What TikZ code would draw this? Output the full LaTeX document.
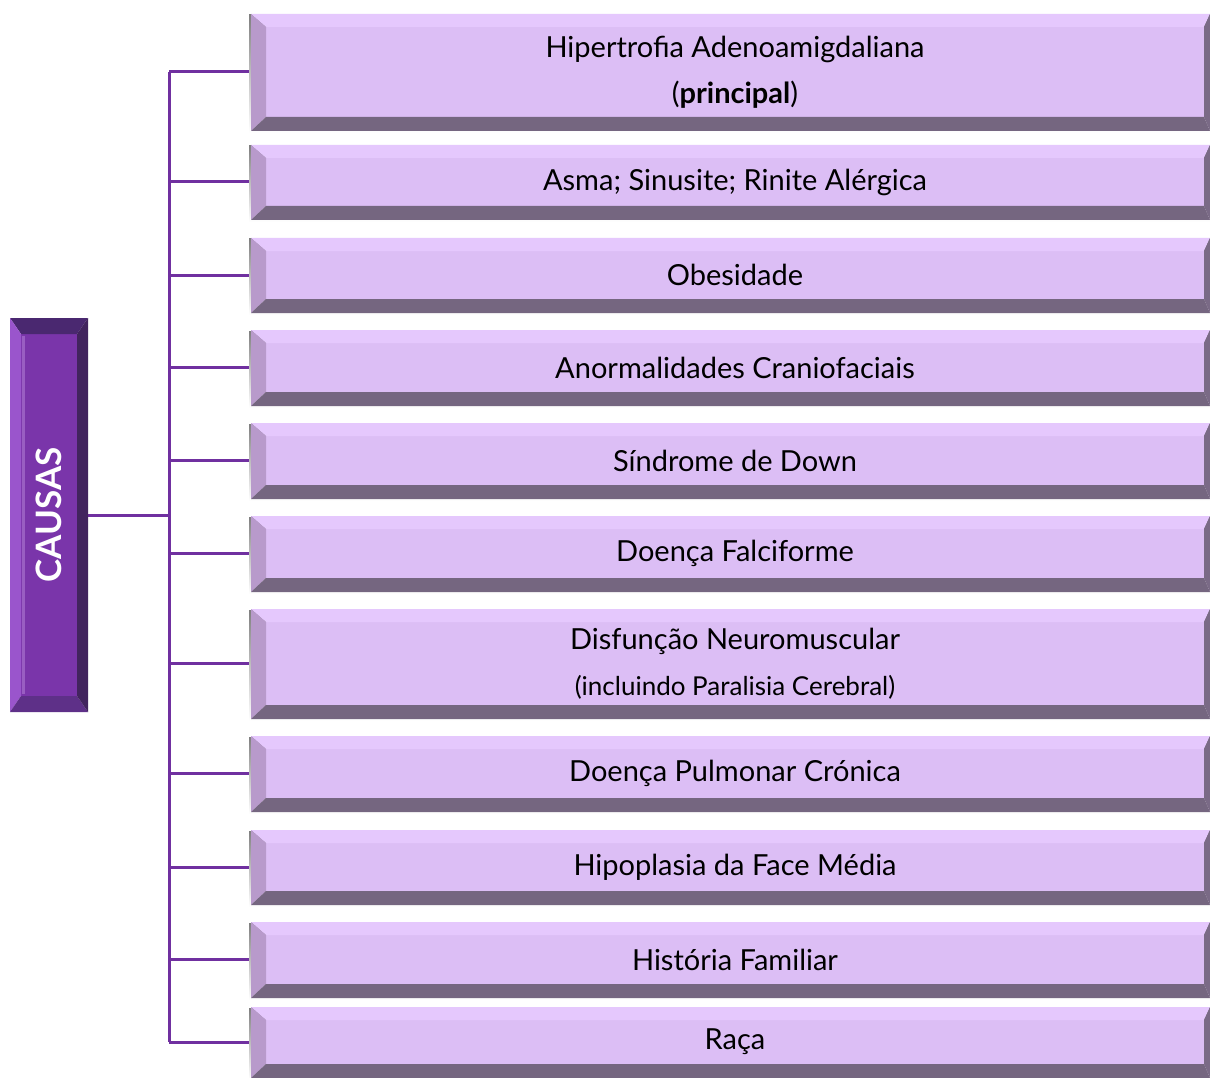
\documentclass[tikz,border=0pt]{standalone}
\usepackage{fontspec}
\setmainfont{Lato}
\usetikzlibrary{calc,backgrounds}
\definecolor{face}{HTML}{DCBEF5}
\definecolor{btop}{HTML}{E5C8FD}
\definecolor{bleft}{HTML}{B89ACB}
\definecolor{bbottom}{HTML}{756680}
\definecolor{bright}{HTML}{7A6A86}
\definecolor{shade}{HTML}{B4B4B4}
\definecolor{cface}{HTML}{7A35AA}
\definecolor{ctop}{HTML}{4A2870}
\definecolor{cleft}{HTML}{9A55CC}
\definecolor{cright}{HTML}{42245E}
\definecolor{cbottom}{HTML}{5E3088}
\definecolor{conn}{HTML}{7030A0}
\tikzset{
  facebox/.style={rectangle, fill=face, inner sep=0pt, minimum width=938pt, align=center,
    font=\fontsize{29}{46}\selectfont, text=black},
  connector/.style={draw=conn, line width=3pt},
}
\newcommand\bevelbox[4]{%
  \fill[shade] (249,{#2+1}) rectangle (1210,{#3+2});
  \node[facebox, minimum height={#3-#2-27}] (#1) at (735,{(#2+#3)/2-0.5}) {#4};
  \fill[btop] (251,#2) -- (1210,#2) -- (1204,{#2+13}) -- (266,{#2+13}) -- cycle;
  \fill[bleft] (251,#2) -- (266,{#2+13}) -- (266,{#3-14}) -- (251,#3) -- cycle;
  \fill[bbottom] (251,#3) -- (266,{#3-14}) -- (1204,{#3-14}) -- (1210,#3) -- cycle;
  \fill[bright] (1210,#2) -- (1204,{#2+13}) -- (1204,{#3-14}) -- (1210,#3) -- cycle;
}
\begin{document}
\begin{tikzpicture}[x=1pt,y=-1pt]
\useasboundingbox (0,0) rectangle (1210,1078);
% CAUSAS box
\node[rectangle, fill=cface, inner sep=0pt, minimum width=362pt, minimum height=56pt,
  text=white, font=\fontsize{35}{40}\selectfont\bfseries, rotate=90] (causas) at (49,515) {CAUSAS};
\fill[ctop] (10,318) -- (88,318) -- (77,334) -- (21,334) -- cycle;
\fill[cleft] (10,318) -- (21,334) -- (21,696) -- (10,712) -- cycle;
\fill[cbottom] (10,712) -- (21,696) -- (77,696) -- (88,712) -- cycle;
\fill[cright] (88,318) -- (77,334) -- (77,696) -- (88,712) -- cycle;
\fill[cleft!70!white, opacity=0.5] (22,336) rectangle (25,694);
\bevelbox{b1}{14}{131}{Hipertrofia Adenoamigdaliana\\(\textbf{principal})}
\bevelbox{b2}{145}{220}{Asma; Sinusite; Rinite Alérgica}
\bevelbox{b3}{238}{313}{Obesidade}
\bevelbox{b4}{330}{406}{Anormalidades Craniofaciais}
\bevelbox{b5}{423}{499}{Síndrome de Down}
\bevelbox{b6}{516}{592}{Doença Falciforme}
\bevelbox{b7}{609}{719}{Disfunção Neuromuscular\\{\fontsize{26}{26}\selectfont (incluindo Paralisia Cerebral)}}
\bevelbox{b8}{736}{812}{Doença Pulmonar Crónica}
\bevelbox{b9}{830}{905}{Hipoplasia da Face Média}
\bevelbox{b10}{922}{998}{História Familiar}
\bevelbox{b11}{1007}{1078}{Raça}
\coordinate (trunk) at (169,515);
\begin{scope}[on background layer]
\fill[white] (0,0) rectangle (1210,1078);
\draw[connector] (causas.south) -- (trunk);
\foreach \b in {b1,b2,b3,b4,b5,b6,b7,b8,b9,b10,b11}{
  \draw[connector] (trunk |- \b.west) -- ($(\b.west)+(-15,0)$);
}
\draw[connector] (trunk |- b1.west) -- (trunk |- b11.west);
\end{scope}
\end{tikzpicture}
\end{document}
